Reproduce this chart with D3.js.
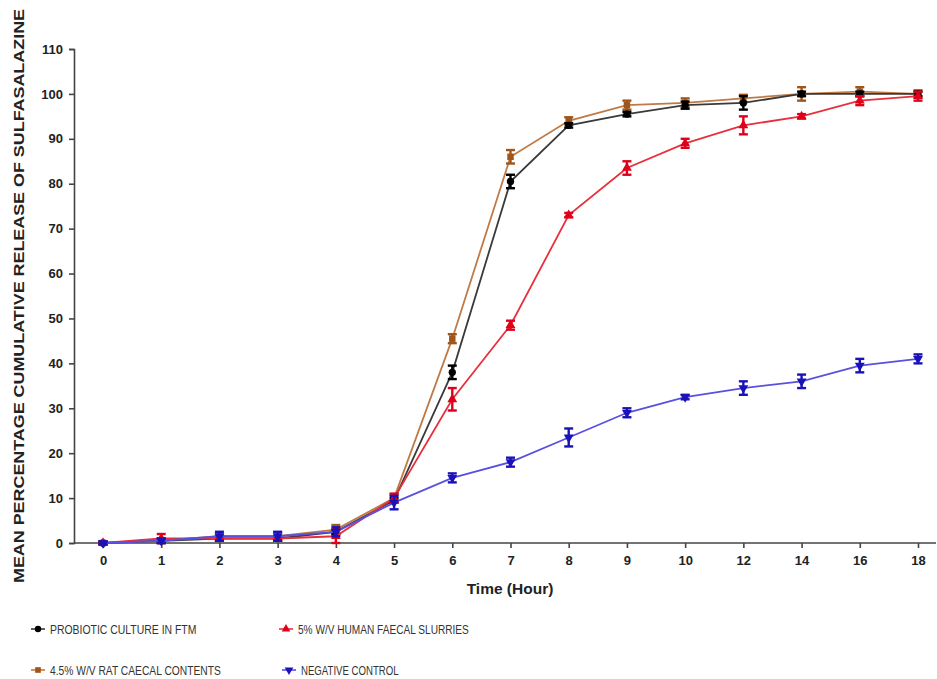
<!DOCTYPE html>
<html>
<head>
<meta charset="utf-8">
<script src="https://cdn.jsdelivr.net/npm/d3@7"></script>
<style>
  body { margin: 0; background: #fff; }
  svg { font-family: Arial, "Liberation Sans", sans-serif; }
</style>
</head>
<body>
<div id="chart"></div>
<script>
// Time points (categorical, evenly spaced on the axis)
const hours = [0, 1, 2, 3, 4, 5, 6, 7, 8, 9, 10, 12, 14, 16, 18];
const yTicks = [0, 10, 20, 30, 40, 50, 60, 70, 80, 90, 100, 110];

// Mean cumulative release (%) and error (SD) per series
const probioticMean = [0, 0.5, 1, 1, 2.5, 9.5, 38, 80.5, 93, 95.5, 97.5, 98, 100, 100, 100];
const probioticErr  = [0.3, 0.5, 0.5, 0.5, 0.5, 0.5, 1.5, 1.5, 0.5, 0.5, 0.8, 1.5, 0.5, 0.5, 0.5];
const humanMean = [0, 1, 1, 1, 1.5, 10, 32, 48.5, 73, 83.5, 89, 93, 95, 98.5, 99.5];
const humanErr  = [0.3, 1, 0.5, 0.5, 1.5, 1, 2.5, 1, 0.5, 1.5, 1, 2, 0.5, 1, 1];
const ratMean = [0, 0.5, 1.5, 1.5, 3, 10, 45.5, 86, 94, 97.5, 98, 99, 100, 100.5, 100];
const ratErr  = [0.3, 0.5, 0.5, 0.8, 1, 0.8, 1, 1.5, 0.8, 1, 1, 0.8, 1.5, 1, 0.8];
const controlMean = [0, 0.5, 1.5, 1.5, 2.5, 9, 14.5, 18, 23.5, 29, 32.5, 34.5, 36, 39.5, 41];
const controlErr  = [0.3, 0.5, 1, 1, 1, 1.5, 1, 1, 2, 1, 0.5, 1.5, 1.5, 1.5, 1];

const seriesNames = [
  'PROBIOTIC CULTURE IN FTM',
  '5% W/V HUMAN FAECAL SLURRIES',
  '4.5% W/V RAT CAECAL CONTENTS',
  'NEGATIVE CONTROL'
];

const series = [
  {name: seriesNames[2], mean: ratMean, err: ratErr, line: '#c07a45', mark: '#a0561a', symbol: d3.symbolSquare},
  {name: seriesNames[0], mean: probioticMean, err: probioticErr, line: '#3a3a3a', mark: '#000000', symbol: d3.symbolCircle},
  {name: seriesNames[1], mean: humanMean, err: humanErr, line: '#e8303c', mark: '#e0001a', symbol: d3.symbolTriangle},
  {name: seriesNames[3], mean: controlMean, err: controlErr, line: '#5a50e0', mark: '#1a12b8', symbol: 'down'}
];

const width = 937, height = 679;
const svg = d3.select('#chart').append('svg')
    .attr('width', width)
    .attr('height', height);

const x = d3.scalePoint()
    .domain(hours)
    .range([103, 918]);

const y = d3.scaleLinear()
    .domain([0, 110])
    .range([543, 49]);

// Y axis
const yAxis = svg.append('g')
    .attr('transform', 'translate(74,0)')
    .call(d3.axisLeft(y).tickValues(yTicks).tickSize(5).tickSizeOuter(5));
yAxis.selectAll('text')
    .attr('font-size', 13)
    .attr('font-weight', 'bold')
    .attr('font-family', 'Arial, "Liberation Sans", sans-serif')
    .attr('fill', '#222')
    .attr('dx', -3);
yAxis.selectAll('line, path').attr('stroke', '#444').attr('stroke-width', 1.6);

// X axis
const xAxis = svg.append('g')
    .attr('transform', 'translate(0,543)')
    .call(d3.axisBottom(x).tickSize(5).tickSizeOuter(0));
xAxis.select('.domain').remove();
xAxis.append('line')
    .attr('x1', 74).attr('x2', 936)
    .attr('stroke', '#444').attr('stroke-width', 1.6);
xAxis.selectAll('text')
    .attr('font-size', 13)
    .attr('font-weight', 'bold')
    .attr('font-family', 'Arial, "Liberation Sans", sans-serif')
    .attr('fill', '#222')
    .attr('dy', '1.1em');
xAxis.selectAll('.tick line').attr('stroke', '#444').attr('stroke-width', 1.6);

// Axis titles
svg.append('text')
    .attr('x', 510).attr('y', 594)
    .attr('text-anchor', 'middle')
    .attr('font-size', 15.5)
    .attr('font-weight', 'bold')
    .attr('fill', '#222')
    .text('Time (Hour)');

svg.append('text')
    .attr('transform', 'translate(24,296) rotate(-90)')
    .attr('text-anchor', 'middle')
    .attr('font-size', 15)
    .attr('font-weight', 'bold')
    .attr('fill', '#222')
    .attr('textLength', 574)
    .attr('lengthAdjust', 'spacingAndGlyphs')
    .text('MEAN PERCENTAGE CUMULATIVE  RELEASE OF SULFASALAZINE');

function symbolPath(s, size) {
  if (s === 'down') return d3.symbol(d3.symbolTriangle, size)();
  return d3.symbol(s, size)();
}

const line = d3.line()
    .x((d, i) => x(hours[i]))
    .y(d => y(d));

const plot = svg.append('g');

series.forEach(s => {
  const g = plot.append('g');
  g.append('path')
      .attr('d', line(s.mean))
      .attr('fill', 'none')
      .attr('stroke', s.line)
      .attr('stroke-width', 1.8);

  const pts = s.mean.map((m, i) => ({h: hours[i], m: m, e: s.err[i]}));

  // error bars
  const eb = g.selectAll('.eb').data(pts).join('g')
      .attr('stroke', s.mark)
      .attr('stroke-width', 2.4);
  eb.append('line')
      .attr('x1', d => x(d.h)).attr('x2', d => x(d.h))
      .attr('y1', d => y(d.m - d.e)).attr('y2', d => y(d.m + d.e));
  eb.append('line')
      .attr('x1', d => x(d.h) - 4.5).attr('x2', d => x(d.h) + 4.5)
      .attr('y1', d => y(d.m + d.e)).attr('y2', d => y(d.m + d.e));
  eb.append('line')
      .attr('x1', d => x(d.h) - 4.5).attr('x2', d => x(d.h) + 4.5)
      .attr('y1', d => y(d.m - d.e)).attr('y2', d => y(d.m - d.e));

  // markers
  g.selectAll('.mk').data(pts).join('path')
      .attr('d', symbolPath(s.symbol, 42))
      .attr('transform', d => `translate(${x(d.h)},${y(d.m)})` + (s.symbol === 'down' ? ' rotate(180)' : ''))
      .attr('fill', s.mark);
});

// Legend
const legendItems = [
  {s: series[1], x: 38, y: 629},
  {s: series[2], x: 286, y: 629},
  {s: series[0], x: 38, y: 670},
  {s: series[3], x: 289, y: 670}
];
const legend = svg.append('g');
legendItems.forEach(it => {
  const g = legend.append('g').attr('transform', `translate(${it.x},${it.y})`);
  g.append('line')
      .attr('x1', -7).attr('x2', 7)
      .attr('stroke', it.s.line).attr('stroke-width', 1.6);
  g.append('path')
      .attr('d', symbolPath(it.s.symbol, 32))
      .attr('transform', it.s.symbol === 'down' ? 'rotate(180)' : null)
      .attr('fill', it.s.mark);
  g.append('text')
      .attr('x', 12)
      .attr('dy', '0.36em')
      .attr('font-size', 13)
      .attr('fill', '#333')
      .attr('textLength', it.s.name.length * 6.1)
      .attr('lengthAdjust', 'spacingAndGlyphs')
      .text(it.s.name);
});
</script>
</body>
</html>
